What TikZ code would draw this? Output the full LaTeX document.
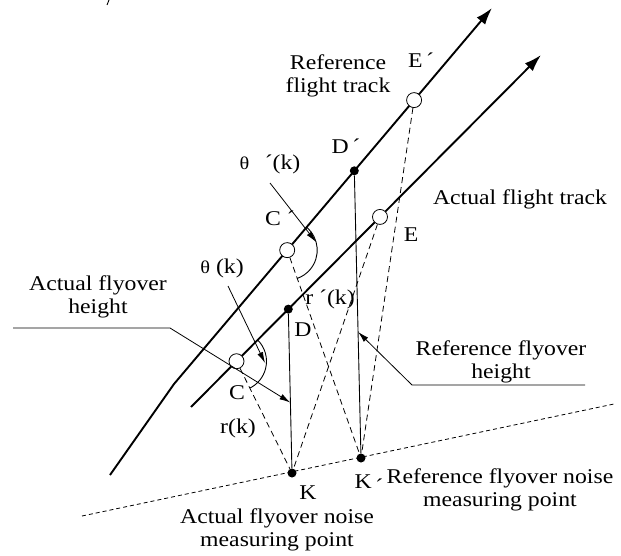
\documentclass[tikz,border=0pt]{standalone}
\usepackage{fontspec}
\setmainfont{Liberation Serif}[FakeStretch=1.13]
\usetikzlibrary{arrows.meta,calc}
\newcommand{\thsz}{\fontsize{18}{18}\selectfont}
\begin{document}
\begin{tikzpicture}[x=1pt,y=-1pt,
  track/.style={line width=1.9pt,-{Latex[length=17pt,width=11pt]}},
  thinln/.style={line width=0.9pt},
  dsh/.style={line width=0.8pt,dash pattern=on 6pt off 4pt},
  ground/.style={line width=0.8pt,dash pattern=on 4pt off 3pt},
  lead/.style={line width=0.8pt,-{Latex[length=11pt,width=6pt]}},
  opn/.style={circle,draw,fill=white,line width=0.8pt,minimum size=15pt,inner sep=0pt},
  dot/.style={circle,fill=black,minimum size=9pt,inner sep=0pt},
  lbl/.style={font=\fontsize{21}{23.5}\selectfont,inner sep=0pt,align=center},
]
\useasboundingbox (0,0) rectangle (621,556);
% track geometry
\coordinate (u0) at (110,475);
\coordinate (ub) at (174,384);
\coordinate (ut) at (492,8);
\coordinate (l0) at (191,407);
\coordinate (lt) at (541,55);
\path (ub) -- (ut) coordinate[pos=0.356] (cCp) coordinate[pos=0.567] (cDp) coordinate[pos=0.755] (cEp);
\path (l0) -- (lt) coordinate[pos=0.13] (cC) coordinate[pos=0.278] (cD) coordinate[pos=0.54] (cE);
\draw[track] (u0) -- (ub) -- (ut);
\draw[track] (l0) -- (lt);
% ground line
\coordinate (g0) at (82,516);
\coordinate (g1) at (614,404);
\draw[ground] (g0) -- (g1);
% points
\node[opn] (Cp) at (cCp) {};
\node[dot] (Dp) at (cDp) {};
\node[opn] (Ep) at (cEp) {};
\node[opn] (C) at (cC) {};
\node[dot] (D) at (cD) {};
\node[opn] (E) at (cE) {};
\node[dot] (K) at (292,473) {};
\node[dot] (Kp) at (361,458) {};
% verticals and slant ranges
\draw[thinln] (D) -- (K);
\draw[thinln] (Dp) -- (Kp);
\draw[dsh] (Cp) -- (Kp);
\draw[dsh] (Ep) -- (Kp);
\draw[dsh] (C) -- (K);
\draw[dsh] (E) -- (K);
% angle arcs
\draw[thinln] ([shift={(50:30pt)}]Cp.center) arc[start angle=50,end angle=-71,radius=30pt];
\draw[thinln] ([shift={(45:30pt)}]C.center) arc[start angle=45,end angle=-63,radius=30pt];
% theta leaders
\coordinate (t1s) at (270,183);
\coordinate (t1e) at (316,242);
\draw[lead] (t1s) -- (t1e);
\coordinate (t2s) at (228,286);
\coordinate (t2e) at (265,363);
\draw[lead] (t2s) -- (t2e);
% height leaders
\coordinate (a1) at (13,328);
\coordinate (a2) at (170,328);
\coordinate (a3) at ($(D)!0.57!(K)$);
\draw[lead] (a1) -- (a2) -- (a3);
\coordinate (r1) at (585,385);
\coordinate (r2) at (412,385);
\coordinate (r3) at ($(Dp)!0.561!(Kp)$);
\draw[lead] (r1) -- (r2) -- (r3);
% stray tick at top
\coordinate (m1) at (109,0);
\coordinate (m2) at (107,5);
\draw[thinln] (m1) -- (m2);
% labels
\node[lbl] (lref) at (338,76) {Reference\\flight track};
\node[lbl] (lEp) at (421,60) {E\,´};
\node[lbl] (lDp) at (346,146) {D\,´};
\node[lbl] (lth1) at (270,164) {{\thsz θ}\ \ \,´(k)};
\node[lbl] (lCp) at (280,218) {C\ ´};
\node[lbl] (lact) at (520,199) {Actual flight track};
\node[lbl] (lE) at (411,235) {E};
\node[lbl] (lth2) at (222,268) {{\thsz θ} (k)};
\node[lbl] (lafh) at (98,297) {Actual flyover\\height};
\node[lbl] (lrp) at (330,299) {r ´(k)};
\node[lbl] (lD) at (303,330) {D};
\node[lbl] (lC) at (237,393) {C};
\node[lbl] (lr) at (238,428) {r(k)};
\node[lbl] (lrfh) at (501,362) {Reference flyover\\height};
\node[lbl] (lK) at (308,493) {K};
\node[lbl] (lKp) at (369,484) {K\,\raisebox{-0.5ex}{´}};
\node[lbl] (lrm) at (500,490) {Reference flyover noise\\measuring point};
\node[lbl] (lam) at (277,530) {Actual flyover noise\\measuring point};
\end{tikzpicture}
\end{document}
